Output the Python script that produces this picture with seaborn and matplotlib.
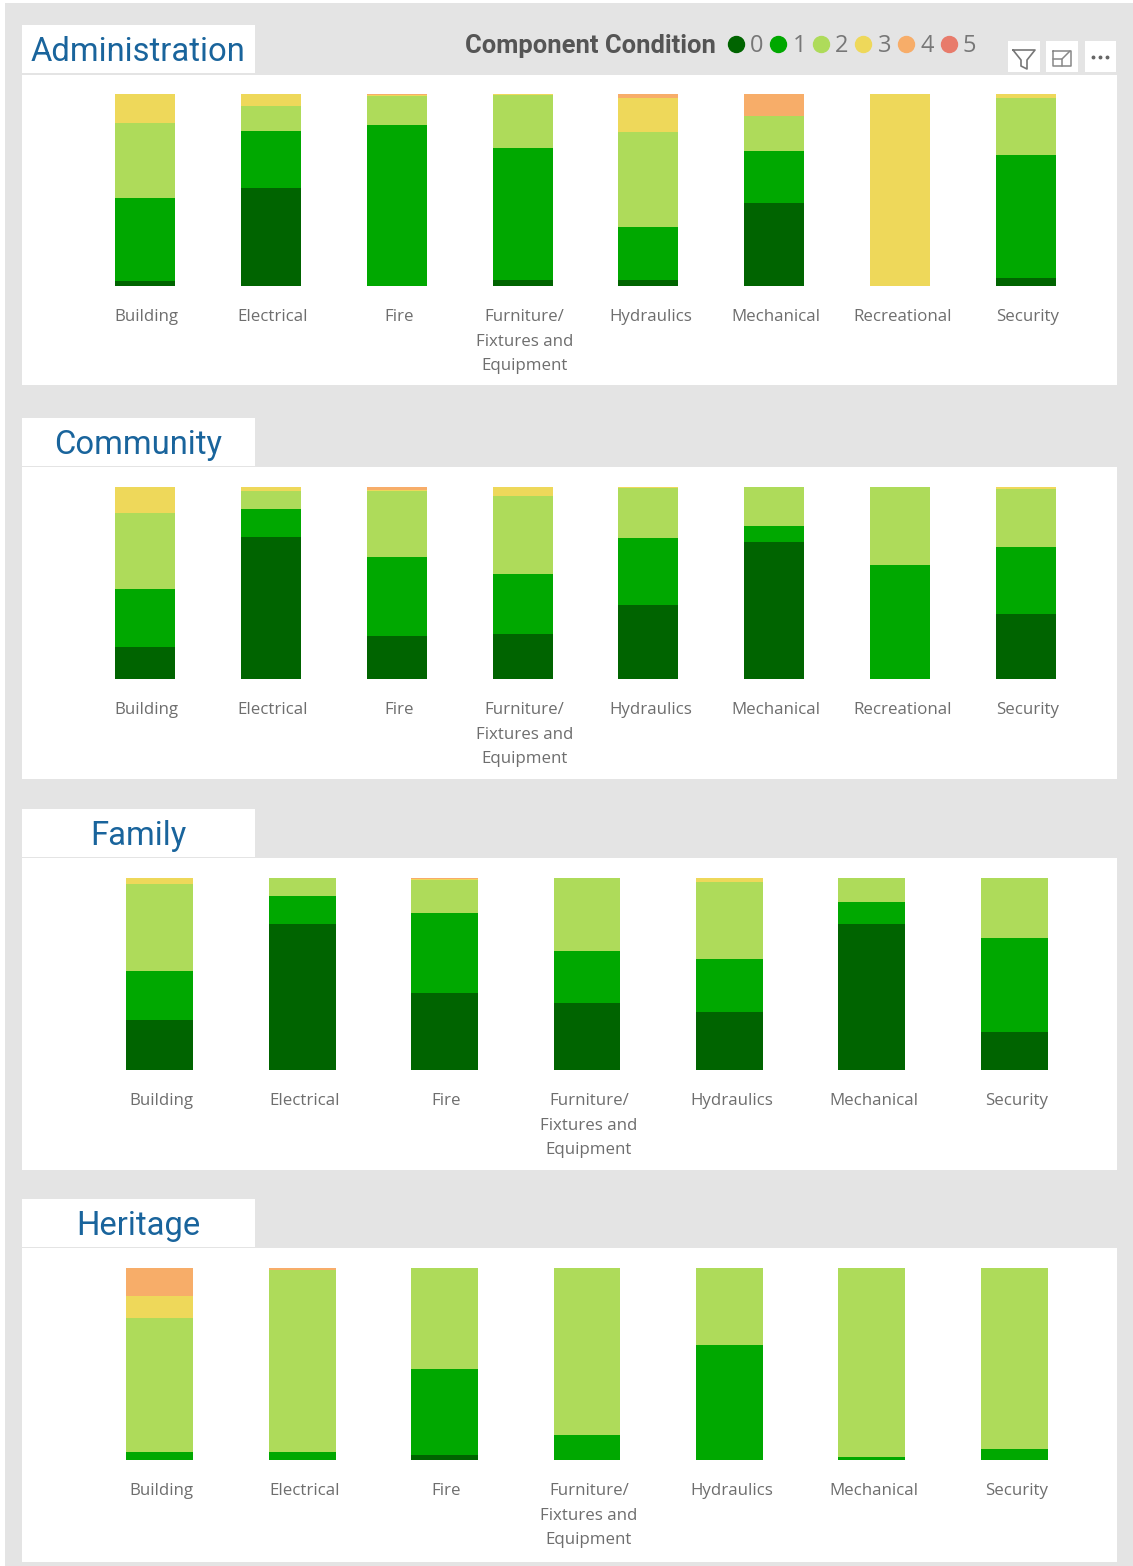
import matplotlib
matplotlib.use('Agg')
import matplotlib.pyplot as plt
from matplotlib.lines import Line2D
from matplotlib.patches import Rectangle
from matplotlib.transforms import ScaledTranslation
import seaborn as sns
import pandas as pd

sns.set_theme(style='white')
plt.rcParams['font.family'] = ['Open Sans', 'DejaVu Sans']

conditions = ['0', '1', '2', '3', '4', '5']
colors = ['#006400', '#00A800', '#AEDB5A', '#EED85A', '#F7AD69', '#E87B6B']

cats8 = ['Building', 'Electrical', 'Fire', 'Furniture/\nFixtures and\nEquipment',
         'Hydraulics', 'Mechanical', 'Recreational', 'Security']
cats7 = ['Building', 'Electrical', 'Fire', 'Furniture/\nFixtures and\nEquipment',
         'Hydraulics', 'Mechanical', 'Security']

# share of components per condition (0..5), one list per category
administration = [
    [2.6, 43.2, 39.0, 15.0, 0.2, 0],
    [51.0, 29.7, 13.0, 6.3, 0, 0],
    [0, 83.9, 15.1, 0.5, 0.5, 0],
    [3.1, 68.8, 27.6, 0.5, 0, 0],
    [3.1, 27.6, 49.5, 17.7, 2.1, 0],
    [43.2, 27.1, 18.2, 0.2, 11.3, 0],
    [0, 0, 0, 100, 0, 0],
    [4.2, 64.0, 29.7, 2.1, 0, 0],
]
community = [
    [16.7, 30.2, 39.6, 13.5, 0, 0],
    [74.0, 14.6, 9.4, 2.0, 0, 0],
    [22.4, 41.1, 34.4, 0.3, 1.8, 0],
    [23.4, 31.3, 40.6, 4.7, 0, 0],
    [38.5, 34.9, 26.2, 0.4, 0, 0],
    [71.4, 8.3, 20.3, 0, 0, 0],
    [0, 59.4, 40.6, 0, 0, 0],
    [33.9, 34.9, 30.2, 1.0, 0, 0],
]
family = [
    [26.0, 25.5, 45.3, 3.2, 0, 0],
    [76.0, 14.6, 9.4, 0, 0, 0],
    [40.1, 41.7, 17.2, 0.5, 0.5, 0],
    [34.9, 27.1, 38.0, 0, 0, 0],
    [30.2, 27.6, 40.1, 2.1, 0, 0],
    [76.0, 11.5, 12.5, 0, 0, 0],
    [19.8, 49.0, 31.2, 0, 0, 0],
]
heritage = [
    [0, 4.2, 69.8, 11.5, 14.5, 0],
    [0, 4.2, 94.8, 0, 1.0, 0],
    [2.6, 44.8, 52.6, 0, 0, 0],
    [0, 13.0, 87.0, 0, 0, 0],
    [0, 59.9, 40.1, 0, 0, 0],
    [0, 1.6, 98.4, 0, 0, 0],
    [0, 5.7, 94.3, 0, 0, 0],
]

W, H = 1133, 1566
fig = plt.figure(figsize=(W / 100, H / 100), dpi=100, facecolor='white')

# page background in pixel coords
bg = fig.add_axes([0, 0, 1, 1], zorder=0)
bg.set_xlim(0, W)
bg.set_ylim(H, 0)
bg.axis('off')
bg.add_patch(Rectangle((5, 3), W - 5, H - 3, color='#E4E4E4', lw=0))


def box(x0, y0, x1, y1):
    bg.add_patch(Rectangle((x0, y0), x1 - x0, y1 - y0, color='white', lw=0))


def panel(name, cats, vals, tab_top, panel_top, panel_bot, bar_top, left, right, width):
    box(22, tab_top, 255, tab_top + 48)
    box(22, panel_top, 1117, panel_bot)
    bg.text(138, tab_top + 27, name, color='#19649C', fontsize=23.6, ha='center', va='center',
            family=['Roboto', 'DejaVu Sans'])
    ax = fig.add_axes([left / W, 1 - (bar_top + 192) / H, (right - left) / W, 192 / H], zorder=1)
    ax.patch.set_alpha(0)
    df = pd.DataFrame(vals, columns=conditions)
    df['cat'] = cats
    bottom = pd.Series([0.0] * len(cats))
    for cond, col in zip(conditions, colors):
        sns.barplot(data=df, x='cat', y=cond, color=col, width=width, bottom=bottom,
                    saturation=1, errorbar=None, ax=ax, linewidth=0)
        bottom = bottom + df[cond]
    ax.set_ylim(0, 100)
    ax.set_xlim(-0.5, len(cats) - 0.5)
    ax.set_xlabel('')
    ax.set_ylabel('')
    ax.set_yticks([])
    sns.despine(ax=ax, left=True, bottom=True)
    ax.tick_params(axis='x', length=0, pad=16.8, labelsize=12.2, labelcolor='#6E6E6E')
    shift = ScaledTranslation(2 / 100, 0, fig.dpi_scale_trans)
    for lab in ax.get_xticklabels():
        lab.set_linespacing(1.7)
        lab.set_transform(lab.get_transform() + shift)
    return ax


panel('Administration', cats8, administration, 25, 75, 385, 94, 82, 1089, 0.476)
panel('Community', cats8, community, 418, 467, 779, 487, 82, 1089, 0.476)
panel('Family', cats7, family, 809, 858, 1170, 878, 88.5, 1085.5, 0.47)
panel('Heritage', cats7, heritage, 1199, 1248, 1562, 1268, 88.5, 1085.5, 0.47)

# legend
bg.text(465, 46, 'Component Condition', color='#555555', fontsize=18.4, fontweight='bold',
        va='center', family=['Roboto', 'DejaVu Sans'])
handles = [Line2D([], [], marker='o', ls='', color=c, markersize=11.5) for c in colors]
fig.legend(handles, conditions, ncol=6, frameon=False, loc='center left',
           bbox_to_anchor=(724 / W, 1 - 46.5 / H), fontsize=17, labelcolor='#777777',
           handletextpad=0.1, columnspacing=0.13, handlelength=1.0, borderpad=0, borderaxespad=0)

# visual header icons
for x0, x1 in [(1008, 1040), (1046, 1078), (1085, 1116)]:
    box(x0, 41, x1, 72)
bg.plot([1013, 1035, 1027, 1027, 1021, 1021, 1013], [50, 50, 60, 69, 66, 60, 50], color='#777777', lw=1.2)
bg.plot([1053, 1071, 1071, 1053, 1053], [51, 51, 66, 66, 51], color='#888888', lw=1.1)
bg.plot([1053, 1062, 1062], [59, 59, 66], color='#888888', lw=1.1)
bg.plot([1062, 1070], [59, 51], color='#888888', lw=1.1)
bg.plot([1093, 1100, 1107], [57, 57, 57], ls='', marker='o', ms=1.8, color='#666666')

fig.savefig('out.png', dpi=100, facecolor='white')
